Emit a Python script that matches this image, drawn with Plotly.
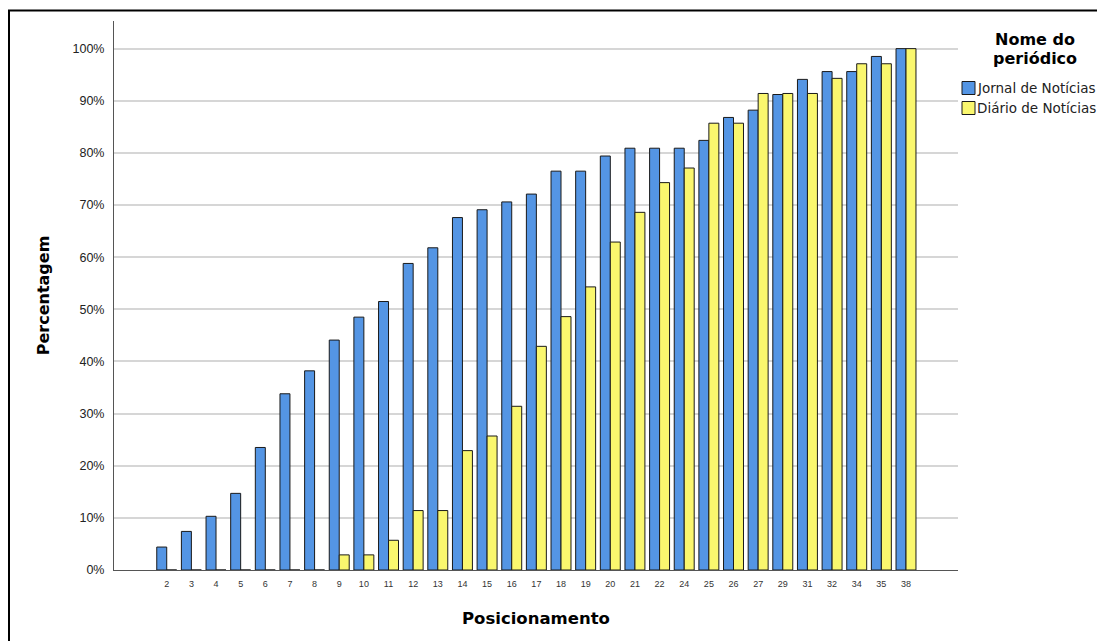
import plotly.graph_objects as go

# Posicionamento categories
positions = ["2", "3", "4", "5", "6", "7", "8", "9", "10", "11", "12", "13", "14", "15",
             "16", "17", "18", "19", "20", "21", "22", "24", "25", "26", "27", "29", "31",
             "32", "34", "35", "38"]

# cumulative percentages
jornal = [4.4, 7.4, 10.3, 14.7, 23.5, 33.8, 38.2, 44.1, 48.5, 51.5, 58.8, 61.8, 67.6, 69.1,
          70.6, 72.1, 76.5, 76.5, 79.4, 80.9, 80.9, 80.9, 82.4, 86.8, 88.2, 91.2, 94.1,
          95.6, 95.6, 98.5, 100.0]
diario = [0, 0, 0, 0, 0, 0, 0, 2.9, 2.9, 5.7, 11.4, 11.4, 22.9, 25.7,
          31.4, 42.9, 48.6, 54.3, 62.9, 68.6, 74.3, 77.1, 85.7, 85.7, 91.4, 91.4, 91.4,
          94.3, 97.1, 97.1, 100.0]

series_names = ["Jornal de Notícias", "Diário de Notícias"]
series_colors = ["#5495E4", "#FAF76E"]

y_ticks = [0, 10, 20, 30, 40, 50, 60, 70, 80, 90, 100]
y_tick_text = [f"{v}%" for v in y_ticks]

font = "Arial, Liberation Sans, sans-serif"
wide = "DejaVu Sans, sans-serif"

fig = go.Figure()
for name, vals, col in zip(series_names, [jornal, diario], series_colors):
    fig.add_bar(x=positions, y=vals, name=name,
                marker=dict(color=col, line=dict(color="#1a1a1a", width=1)))

# the page body adds an 8px offset, margins below account for it
fig.update_layout(
    width=1105, height=641,
    margin=dict(l=106, r=155, t=13, b=79),
    paper_bgcolor="white", plot_bgcolor="white",
    font=dict(family=font, color="#222"),
    barmode="group", bargap=0.19, bargroupgap=0,
    showlegend=False,
    hovermode=False,
)

fig.update_xaxes(
    type="category", range=[-2.14, 32.11],
    showline=True, linecolor="#555", linewidth=1,
    showgrid=False, ticks="outside", ticklen=5, tickcolor="rgba(0,0,0,0)",
    tickfont=dict(size=9, color="#333"),
    title=dict(text="<b>Posicionamento</b>", font=dict(size=16.5, color="black", family=wide),
               standoff=24),
)
fig.update_yaxes(
    range=[0, 105.3],
    tickvals=y_ticks, ticktext=y_tick_text,
    showline=True, linecolor="#555", linewidth=1,
    showgrid=True, gridcolor="#D6D6D6", gridwidth=1.5,
    zeroline=False, ticks="outside", ticklen=6, tickcolor="rgba(0,0,0,0)",
    tickfont=dict(size=12.5, color="#222"),
    title=dict(text="<b>Percentagem</b>", font=dict(size=16, color="black", family=wide),
               standoff=18),
)

# legend drawn by hand (SPSS style: centred title, tight swatches)
def px_x(p):
    return (p - 114) / 844


def px_y(p):
    return (570 - p) / 549


for line, cy in [("Nome do", 40), ("periódico", 58)]:
    fig.add_annotation(text=f"<b>{line}</b>", xref="paper", yref="paper",
                       x=px_x(1035), y=px_y(cy), xanchor="center", yanchor="middle",
                       showarrow=False,
                       font=dict(size=16, color="black", family=wide))
for i, (name, col) in enumerate(zip(series_names, series_colors)):
    cy = 88 + 20 * i
    fig.add_shape(type="rect", xref="paper", yref="paper",
                  x0=px_x(962), x1=px_x(975), y0=px_y(cy + 6.5), y1=px_y(cy - 6.5),
                  fillcolor=col, line=dict(color="#1a1a1a", width=1))
    fig.add_annotation(text=name, xref="paper", yref="paper",
                       x=px_x(975), y=px_y(cy), xanchor="left", yanchor="middle",
                       showarrow=False,
                       font=dict(size=13.5, color="#222", family=wide))

# outer frame of the chart
fig.add_shape(type="rect", xref="paper", yref="paper",
              x0=px_x(9), x1=1.2, y0=-0.2, y1=px_y(10.5),
              line=dict(color="black", width=2), fillcolor="rgba(0,0,0,0)", layer="above")

fig.write_html("out.html")
